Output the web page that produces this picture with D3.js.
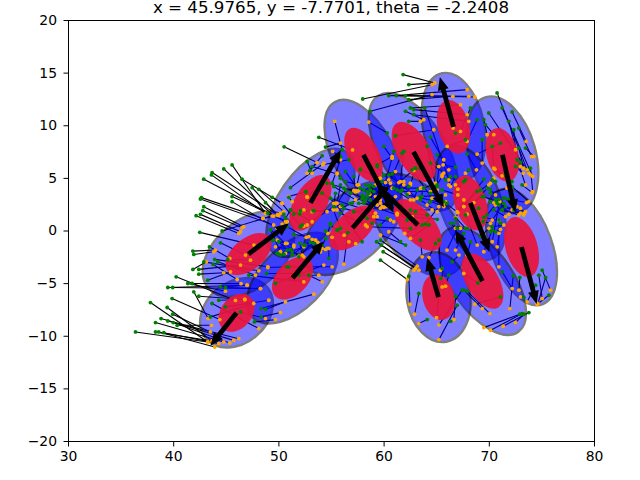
<!DOCTYPE html>
<html>
<head>
<meta charset="utf-8">
<script src="https://d3js.org/d3.v7.min.js"></script>
<style>
  html, body { margin: 0; padding: 0; background: #fff; }
  text { font-family: "DejaVu Sans", sans-serif; }
</style>
</head>
<body>
<script>
var titleText = "x = 45.9765, y = -7.7701, theta = -2.2408";
var xTicks = [30, 40, 50, 60, 70, 80];
var yTicks = [-20, -15, -10, -5, 0, 5, 10, 15, 20];

//poses: centre, heading and arrow length
var poseX = [45.97, 47.11, 51.29, 53.0, 57.0, 58.04, 62.8, 66.6, 71.25, 68.2, 63.2, 73.06, 69.35, 65.17];
var poseY = [-7.77, -2.19, -4.48, 2.67, 0.29, 7.24, 7.52, 9.9, 7.24, 2.67, 0.57, -1.52, -4.76, -6.29];
var poseTheta = [-2.24, 0.65, 0.87, 1.05, 0.86, -1.09, -1.07, 1.84, -1.35, -1.2, 2.36, -1.31, 2.06, 1.85];
var poseLen = [4.0, 4.8, 4.6, 5.8, 5.3, 6.2, 6.0, 4.9, 5.6, 5.0, 5.6, 5.6, 5.5, 3.9];

//covariance ellipses: semi axes and angle in degrees
var blueA = [3.8, 5.0, 5.3, 5.9, 5.7, 5.7, 6.3, 5.2, 5.7, 5.7, 5.7, 5.8, 5.9, 4.3];
var blueB = [2.9, 3.2, 3.0, 3.0, 3.1, 2.9, 3.1, 2.9, 3.15, 2.9, 3.3, 2.9, 2.9, 3.0];
var blueAngle = [40, 40, 45, 55, 42, -62, -58, -78, -74, -70, -50, -70, -55, -80];
var redA = [2.0, 2.57, 2.38, 2.96, 2.7, 2.8, 3.17, 2.6, 2.6, 2.7, 3.0, 2.93, 2.92, 2.2];
var redB = [1.48, 1.48, 1.52, 1.52, 1.5, 1.45, 1.57, 1.5, 1.5, 1.5, 1.52, 1.52, 1.52, 1.5];
var redAngle = [50, 40, 48, 59, 42, -62, -60, -75, -75, -72, -49, -74, -59, -75];

//each row: green x, green y, orange x, orange y
var hitsLowerLeft = [
  [36.37,-9.59,43.24,-10.54],[38.27,-9.59,43.65,-10.45],[38.58,-9.59,43.91,-11.02],[39.06,-9.66,44.29,-10.7],
  [38.27,-8.7,44.76,-10.54],[38.8,-8.32,45.71,-10.39],[39.44,-8.54,46.19,-10.23],[39.95,-8.7,45.33,-10.64],
  [39.91,-7.91,43.49,-9.59],[40.33,-8.96,43.59,-8.96],[37.79,-6.8,43.24,-10.54],[39.38,-7.27,43.65,-10.45],
  [39.85,-6.42,44.38,-8.42],[39.44,-5.37,46.98,-5.15],[39.91,-5.37,48.25,-5.47],[40.23,-4.35,45.87,-6.6],
  [41.34,-4.99,44.92,-5.72],[41.75,-4.99,46.4,-5.0],[41.91,-5.78,43.27,-8.32],[42.39,-6.2,46.76,-6.51]
];
var hitsLeft = [
  [45.55,6.28,48.72,1.68],[44.76,5.9,49.51,1.42],[43.65,5.55,49.99,1.46],[43.59,5.33,48.72,1.68],
  [42.86,4.92,50.62,0.88],[42.64,3.17,48.47,1.2],[42.54,3.04,49.5,0.57],[45.55,3.27,50.78,0.88],
  [45.55,2.79,49.83,0.25],[42.86,2.31,46.66,0.41],[42.77,1.93,46.5,0.31],[42.54,1.58,46.35,-0.07],
  [42.13,1.46,46.19,-0.23],[46.5,4.92,50.3,2.63],[47.46,4.12,49.83,1.52],[48.09,3.96,50.46,1.84],
  [42.48,-0.13,47.63,-1.34],[41.82,-1.91,43.97,-1.81],[41.91,-2.23,43.81,-1.97],[41.82,-3.65,43.11,-2.93],
  [43.4,-1.5,45.33,-2.61],[44.45,-1.12,46.82,-2.29],[42.39,-3.65,46.35,-3.24],[42.86,-2.93,48.09,-3.78],
  [43.9,-2.7,48.94,-3.4],[44.19,-2.93,47.77,-4.2],[43.75,-3.18,46.03,-4.61],[45.14,-2.7,47.3,-2.77],
  [42.39,-4.1,44.76,-3.97],[43.24,-4.67,45.4,-3.88],[44.6,0.0,50.15,1.68]
];
var hitsMiddleLeft = [
  [49.51,-0.86,50.78,-1.18],[49.2,0.09,50.15,-1.97],[49.99,-2.2,51.42,-1.5],[50.47,-2.2,52.37,-1.5],
  [51.26,-2.29,53.16,-0.8],[51.89,-2.45,53.48,-0.86],[53,-1.08,54.11,-1.66],[52.52,-1.34,54.58,-1.66],
  [50.78,-3.4,55.06,-3.4],[49.67,-4.99,54.27,-3.24],[51.89,-4.2,53.79,-4.2],[52.84,-4.2,54.11,-4.83],
  [48.31,-7.37,53.32,-6.0],[48.72,-7.46,50.62,-6.73],[48.31,-8.16,50.15,-7.75],[47.68,-8.64,49.67,-8.42],
  [46.35,-7.69,48.72,-8.32],[44.92,-7.21,49.04,-6.58],[43.49,-8.16,47.61,-6.89],[44.92,-5.37,48.25,-5.47],
  [44.45,-5.31,46.98,-5.15],[43.65,-6.89,48.09,-9.27],[44.29,-6.58,46.76,-6.51],[47.14,-4.2,52.37,-4.83],
  [48.82,-4.04,51.57,-4.04],[52.68,6.6,53.16,5.49],[54.11,7.14,52.68,5.49],[53.16,6.12,55.54,5.42],
  [52.94,5.74,53.63,6.5],[51.1,4.12,54.27,6.44],[52.59,3.74,50.94,3.27],[54.11,4.54,52.68,3.27],
  [53.25,1.93,55.22,2],[52.05,1.9,54.58,1.84],[51.1,2,53.16,0.88],[52.05,0.41,50.3,2.63],
  [55.22,2.31,52.37,0.47],[54.9,0.57,56.2,-0.4],[55.54,0.09,57.3,-1.2],[50.5,8.0,53.63,6.5],
  [53.8,8.9,57.0,7.7],[50.78,0.41,52.6,-0.6]
];
var hitsTop = [
  [61.81,14.86,64.82,14.07],[62.35,13.91,64.82,14.07],[57.97,12.54,64.56,13.9],[60.45,12.86,68.05,12.8],
  [62.03,12.86,68.62,12.73],[61.17,12.86,67.9,13.43],[58.7,11.37,64.56,12.96],[62.35,12.48,66.53,12.8],
  [62.5,11.69,67.26,12.0],[62.03,11.37,63.77,10.58],[62.82,11.53,67.9,11.05],[62.82,11.05,68.05,10.42],
  [62.35,10.42,63.46,10.42],[61.08,9.05,64.72,9.62],[60.29,9.31,58.54,10.35],[56.01,7.72,55.31,10.42],
  [68.21,11.69,67.26,9.46],[68.84,10.58,67.89,8.51],[67.73,8.67,66,8.04],[66.78,9.3,66.56,9.78],
  [65.04,7.24,65.67,6.77],[67.89,7.31,68.78,5.81],[64.41,8.92,66.15,5.81],[63.87,11.69,66.15,4.86],
  [64.09,8.04,65.04,3.59],[64.41,6.45,65.67,5.5],[62.98,5.97,62.5,4.39],[61.87,7.56,61.55,4.7],
  [59.97,8.04,60.76,6.92],[57.75,5.81,59.65,5.02],[59.34,6.13,60.45,4.86],[54.43,7.97,55.85,8.35],
  [55.85,7.08,55.12,7.56],[56.64,6.77,54.17,6.29]
];
var hitsTopRight = [
  [70.74,13.12,73.6,5.81],[71.22,11.69,74.13,5.18],[69.95,11.21,73.91,5.34],[72.17,11.31,73.5,8.51],
  [71.85,10.42,72.96,6.13],[69.48,10.58,69.79,9.15],[69.63,10.1,70.43,9.15],[72.33,9.62,72.49,7.72],
  [72.8,9.78,74.01,7.08],[69.32,8.67,69.32,6.45],[71.06,8.35,68.84,7.31],[70.27,8.04,70.43,5.97],
  [72.8,7.88,73.28,5.97],[73.44,7.88,74.23,7.08],[72.64,6.77,73.44,4.38],[73.91,5.97,74.13,3.75],
  [72.17,4.22,73.75,2.8],[67.57,4.7,66.78,4.39],[68.84,3.75,66.94,1.85],[69.48,3.27,67.57,2.32],
  [69,2.16,67.89,1.59],[70.11,3.59,71.69,4.07],[70.74,2.64,73.28,1.53],[71.22,2.0,72.96,1.69],
  [71.54,3.12,72.64,2.32],[70.43,2.0,71.54,1.37],[69.79,1.53,70.58,2.48]
];
var hitsCentre = [
  [54.58,4.54,57.44,3.75],[55.22,4.23,57.28,2.96],[54.11,3.59,55.85,2.32],[55.85,4.38,55.53,2.64],
  [56.33,4.7,57.59,4.38],[56.8,3.59,59.65,2.64],[57.75,4.07,60.29,2.32],[58.39,3.75,61.08,3.27],
  [58.7,2.96,59.18,4.38],[58.07,2.64,61.24,1.53],[59.02,3.75,61.87,4.39],[59.81,4.7,62.5,2.96],
  [60.45,5.34,63.14,3.12],[60.92,4.07,63.46,4.07],[61.55,3.75,64.41,3.75],[62.19,3.43,65.67,2.64],
  [63.46,3.27,65.83,3.43],[63.77,4.07,64.88,4.54],[65.04,4.38,65.51,5.18],[64.41,2.8,65.67,2.32],
  [56.96,2.64,55.53,2.0],[54.9,3.12,59.18,1.69],[56.17,4.07,57.28,3.75],[58.23,4.38,60.29,3.27],
  [58.54,4.23,59.97,3.75],[57.91,3.43,58.86,2.32],[58.07,3.27,59.65,3.59]
];
var hitsCentre2 = [
  [57.75,5.87,57.43,4.38],[57.12,5.17,57.28,3.84],[56.33,5.65,57.59,3.84],[55.85,5.01,55.53,5.49],
  [55.06,4.54,55.85,6.76],[55.38,3.58,55.22,2.63],[56.01,2.47,55.38,2.57],[56.33,3.9,55.22,2.06],
  [56.8,2.63,58.64,3.49],[58.7,4.38,59.18,3.27],[58.54,3.58,59.49,4.92],[58.07,3.9,60.13,4.6],
  [57.91,3.11,60.6,4.54],[57.59,2.63,59.34,2.47],[57.12,1.84,59.81,2.31],[55.85,1.68,58.23,0.57],
  [56.17,2.15,59.02,1.36],[59.02,4.22,60.13,2.31],[59.34,6.28,60.76,7.08],[59.97,5.33,61.08,5.65],
  [60.76,5.42,61.4,4.6],[61.24,3.9,61.87,4.69],[61.71,3.9,62.5,4.54],[62.35,4.22,62.35,3.58],
  [63.14,3.9,62.82,2.95],[63.61,3.27,63.61,4.06],[64.41,2.79,64.09,2.47],[62.5,2.0,64.56,2.0],
  [62.98,1.84,61.24,1.68],[64.41,3.58,65.04,3.9],[65.04,4.22,65.2,6.12],[62.19,1.04,60.6,2.47],
  [63.93,0.66,65.2,2.31],[63.46,2.95,65.04,1.84],[60.29,1.2,60.6,1.04],[59.65,0.57,60.29,1.2],
  [58.39,1.2,60.92,0.88],[58.86,0.73,59.34,1.36],[60.92,7.55,59.65,2.95],[61.71,7.39,60.13,3.74],
  [62.98,5.96,60.76,4.06],[63.46,5.96,62.82,5.74],[62.66,5.81,64.56,3.11],[58.23,2.95,59.65,2.15],
  [58.39,3.27,59.97,2.25],[58.07,2.79,57.28,3.74],[58.7,3.9,57.12,3.84]
];
var hitsInnerLeft = [
  [49.36,3.2,50.31,2.63],[48.73,2.69,49.9,1.52],[48.95,1.68,49.36,1.42],[50.47,1.61,48.5,1.2],
  [50.63,1.2,50.78,0.88],[50.94,3.2,51.26,2.79],[51.1,2.0,50.31,0.66],[51.42,1.61,52.05,1.84],
  [51.99,1.61,52.37,2],[52.53,3.74,52.69,3.2],[53.32,1.93,53.16,1.84],[52.21,0.57,52.69,0.57],
  [54.43,0,55.06,-0.6],[54.9,0.73,54.65,-0.23],[55.54,0.09,56.65,-1.02],[55.85,0.25,55.16,2.06],
  [56.55,-0.16,56.17,-3.15],[57.91,-1.02,55.38,2.63],[51.42,-0.32,52.84,-0.54],[49.99,-1.02,50.63,-1.18],
  [49.36,-0.86,51.42,-1.34],[50.78,-1.81,49.83,-0.86],[51.1,-1.75,49.68,-1.5],[49.83,-2.13,50.15,-1.97],
  [50.15,-2.29,50.63,-2.13],[49.2,0.15,51.89,-2.39],[51.99,-1.18,52.21,-2.29],[52.37,-1.34,53.48,-0.86],
  [53.32,-1.18,53.7,-1.08],[54.43,-0.7,53.95,-1.97],[54.11,-1.34,54.43,-1.75],[54.75,-2.61,54.75,-1.66],
  [50.94,-3.4,48.95,-3.47],[51.26,-1.97,52.37,-2.45]
];
var hitsInnerRight = [
  [66.79,6.06,65.61,6.28],[65.84,4.86,65.52,5.33],[66.31,5.17,66.15,4.38],[66.79,5.17,66.31,4.22],
  [67.74,4.86,67.01,3.97],[68.05,5.81,67.74,5.49],[65.52,3.9,67.01,3.43],[65.99,2.63,65.84,2.79],
  [65.68,2.79,67.01,1.74],[69.48,4.92,67.58,2.32],[69.8,4.06,68.53,2.7],[70.27,4.86,69.95,4.38],
  [70.59,4.7,70.43,5.01],[70.11,3.9,70.59,3.43],[69.16,3.9,70.11,4.54],[69.32,3.27,71,2.79],
  [70.59,2.95,70.43,2.7],[70.91,3.01,71.86,1.6],[70.11,2.79,72.17,2.0],[71.38,3.11,72.96,2.16],
  [71.86,3.01,73.53,2.7],[71.54,2.32,73.44,1.84],[71.22,2.0,72.81,1.52],[69.48,1.3,70.91,0.98],
  [69.42,0.89,70.11,0.73],[70.27,0.41,71.38,0.57],[70.11,-0.07,71.06,0.16],[70.59,-0.07,70.91,-0.22],
  [67.74,0.25,66.79,1.3],[67.9,0.25,67.26,0.25],[66.31,0.73,66.79,0.25],[72.96,6.51,73.76,5.49],
  [72.49,6.13,73.22,5.49],[73.12,4.38,74.07,3.65],[72.17,4.7,70.53,5.87],[71.54,5.33,71.22,5.24]
];
var hitsLowerRight = [
  [59.28,-1.02,62.99,-3.56],[59.66,-0.86,63.15,-3.34],[59.72,-1.34,63.31,-3.72],[59.91,-1.97,62.83,-3.72],
  [59.66,-2.77,62.2,-4.61],[62.35,-4.29,62.45,-6.96],[63.3,-5.94,62.9,-7.9],[64.1,-8.42,63.3,-8.8],
  [66.95,-7.05,65.21,-10.32],[66.79,-6.2,66.63,-8.42],[65.37,-4.51,64.98,-8.23],[66.16,-4.2,65.84,-5.24],
  [65.52,-3.56,65.52,-5.31],[67.42,-5.62,65.21,-8.92],[66.32,-8.58,66.63,-8.42],[68.91,-4.93,67.58,-4.04],
  [71.07,-6.26,68.63,-6.96],[72.91,-7.91,69.48,-9.18],[73.13,-7.85,70.12,-9.43],[73.76,-7.75,71.32,-9.05],
  [73.29,-7.91,72.49,-8.7],[72.27,-4.26,71.96,-7.37],[72.9,-4.42,72.81,-5.62],[71.23,-3.88,72.18,-5.47],
  [67.58,-5.62,69.33,-7.37],[67.9,-5.72,70.05,-7.85],[75.03,-3.72,75.82,-5.62],[74.71,-4.2,75.03,-6.42],
  [75.35,-4.42,74.62,-6.89],[74.4,-5.15,73.6,-6.73],[75.66,-6.1,74.55,-6.96],[73.29,-6.32,72.97,-6.26],
  [65.05,1.11,62.67,1.36],[64.1,1.52,61.25,1.68],[63.62,0.57,61.97,-0.23],[64.26,0.57,62.51,-0.7],
  [63.46,-0.86,63.62,-2.45],[64.89,-1.18,64.26,-2.54],[65.21,-0.86,65.36,-3.72],[61.56,-1.02,60.45,-0.07],
  [62.04,-1.34,59.66,-0.39],[62.51,0.25,58.39,0.41],[66.79,1.2,67.58,2.95],[66.95,0.25,65.98,-1.81],
  [66.47,-2.93,67.11,-2.29],[67.58,-0.23,66.79,-1.81],[68.22,-1.02,67.9,-2.29],[67.74,1.52,68.85,-1.34],
  [69.17,-0.54,69.96,0.25],[70.28,0.09,69.48,-1.97],[71.07,0.73,70.75,-1.5],[71.38,2.63,70.28,1.04],
  [70.91,2.47,70.28,-1.02],[72.34,2.0,73.29,1.68],[66.63,0.73,66.95,-0.54],[70.91,1.04,70.91,-3.4]
];

var hits = [].concat(hitsLowerLeft, hitsLeft, hitsMiddleLeft, hitsTop, hitsTopRight, hitsCentre,
    hitsCentre2, hitsInnerLeft, hitsInnerRight, hitsLowerRight);

var width = 640,
    height = 480;

var svg = d3.select("body")
    .append("svg")
    .attr("width", width)
    .attr("height", height);

var x = d3.scaleLinear().domain([30, 80]).range([68.5, 594.5]);
var y = d3.scaleLinear().domain([-20, 20]).range([441.5, 20.5]);

//clip everything to the axes
svg.append("clipPath").attr("id", "plot")
    .append("rect")
    .attr("x", x(30)).attr("y", y(20)).attr("width", x(80) - x(30)).attr("height", y(-20) - y(20));

var plot = svg.append("g").attr("clip-path", "url(#plot)");

//lines sit under the ellipses, that is why they look blue inside them
plot.selectAll(".hit")
    .data(hits)
    .enter()
    .append("line")
    .attr("class", "hit")
    .attr("x1", function(d){ return x(d[0]); })
    .attr("y1", function(d){ return y(d[1]); })
    .attr("x2", function(d){ return x(d[2]); })
    .attr("y2", function(d){ return y(d[3]); })
    .attr("stroke", "#000")
    .attr("stroke-width", 1.1);

function addEllipses(cls, a, b, angle, fill, opacity, stroke, strokeWidth){
    plot.selectAll("." + cls)
        .data(poseX)
        .enter()
        .append("ellipse")
        .attr("class", cls)
        .attr("rx", function(d, i){ return x(poseX[i] + a[i]) - x(poseX[i]); })
        .attr("ry", function(d, i){ return x(poseX[i] + b[i]) - x(poseX[i]); })
        .attr("transform", function(d, i){
            return "translate(" + x(poseX[i]) + "," + y(poseY[i]) + ") rotate(" + (-angle[i]) + ")";
        })
        .attr("fill", fill)
        .attr("stroke", stroke)
        .attr("stroke-width", strokeWidth)
        .attr("opacity", opacity);
}

addEllipses("blue", blueA, blueB, blueAngle, "#0000ff", 0.5, "#000", 2.4);
addEllipses("red", redA, redB, redAngle, "#e8143c", 0.93, "none", 0);

plot.selectAll(".orange")
    .data(hits)
    .enter()
    .append("circle")
    .attr("class", "orange")
    .attr("cx", function(d){ return x(d[2]); })
    .attr("cy", function(d){ return y(d[3]); })
    .attr("r", 1.9)
    .attr("fill", "#ffa500");

plot.selectAll(".green")
    .data(hits)
    .enter()
    .append("circle")
    .attr("class", "green")
    .attr("cx", function(d){ return x(d[0]); })
    .attr("cy", function(d){ return y(d[1]); })
    .attr("r", 1.9)
    .attr("fill", "#008000");

//heading arrows, drawn as one polygon in screen space
function arrowPath(d, i){
    var x0 = x(poseX[i]), y0 = y(poseY[i]);
    var x1 = x(poseX[i] + poseLen[i] * Math.cos(poseTheta[i]));
    var y1 = y(poseY[i] + poseLen[i] * Math.sin(poseTheta[i]));
    var len = Math.hypot(x1 - x0, y1 - y0);
    var ux = (x1 - x0) / len, uy = (y1 - y0) / len;
    var nx = -uy, ny = ux;
    var shaft = 2.4, head = 5.5, headLen = 13;
    var bx = x1 - ux * headLen, by = y1 - uy * headLen;
    var pts = [
        [x0 + nx * shaft, y0 + ny * shaft],
        [bx + nx * shaft, by + ny * shaft],
        [bx + nx * head, by + ny * head],
        [x1, y1],
        [bx - nx * head, by - ny * head],
        [bx - nx * shaft, by - ny * shaft],
        [x0 - nx * shaft, y0 - ny * shaft]
    ];
    return "M" + pts.join("L") + "Z";
}

plot.selectAll(".arrow")
    .data(poseX)
    .enter()
    .append("path")
    .attr("class", "arrow")
    .attr("d", arrowPath)
    .attr("fill", "#000");

//axes
var xAxis = svg.append("g")
    .attr("transform", "translate(0," + y(-20) + ")")
    .call(d3.axisBottom(x).offset(0).tickValues(xTicks).tickSize(5).tickPadding(5).tickFormat(d3.format("d")));
var yAxis = svg.append("g")
    .attr("transform", "translate(" + x(30) + ",0)")
    .call(d3.axisLeft(y).offset(0).tickValues(yTicks).tickSize(5).tickPadding(6.5).tickFormat(function(d){
        return d < 0 ? "\u2212" + Math.abs(d) : d;
    }));

svg.selectAll(".domain").remove();
svg.selectAll(".tick line").attr("stroke-width", 1).attr("stroke", "#000");
svg.selectAll(".tick text").attr("font-size", 13.9).attr("fill", "#000")
    .style("font-family", '"DejaVu Sans", sans-serif');

//frame
svg.append("rect")
    .attr("x", x(30)).attr("y", y(20)).attr("width", x(80) - x(30)).attr("height", y(-20) - y(20))
    .attr("fill", "none").attr("stroke", "#000").attr("stroke-width", 1);

svg.append("text")
    .attr("x", 331)
    .attr("y", 13)
    .attr("text-anchor", "middle")
    .attr("font-size", 16.67)
    .attr("fill", "#000")
    .text(titleText);
</script>
</body>
</html>
